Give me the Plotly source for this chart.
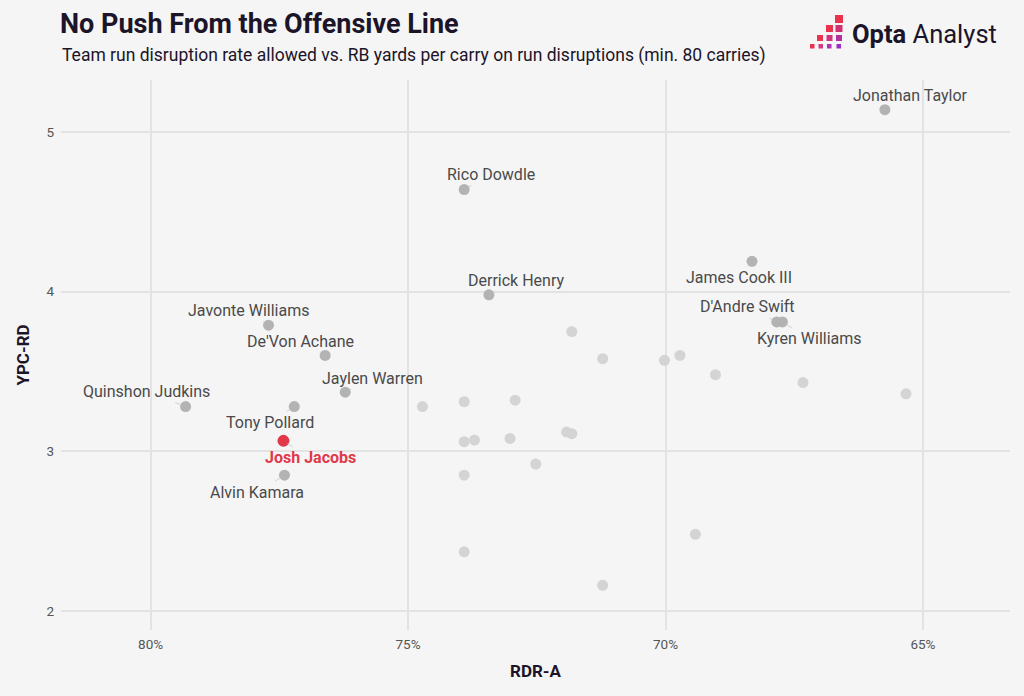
import plotly.graph_objects as go

# ---- data ----
labeled_names = ["Jonathan Taylor", "Rico Dowdle", "James Cook III", "Derrick Henry",
                 "D'Andre Swift", "Kyren Williams", "Javonte Williams", "De'Von Achane",
                 "Jaylen Warren", "Quinshon Judkins", "Tony Pollard", "Alvin Kamara"]
labeled_rdr = [65.74, 73.91, 68.32, 73.43, 67.84, 67.73, 77.71, 76.61, 76.22, 79.32, 77.21, 77.40]
labeled_ypc = [5.14, 4.64, 4.19, 3.98, 3.81, 3.81, 3.79, 3.60, 3.37, 3.28, 3.28, 2.85]
# label offsets in pixels (dx, dy)
label_dx = [26, 27, -13, 27, -29, 27, -20, -25, 27, -39, -24, -27]
label_dy = [-14, -15, 16, -14, -15, 17, -15, -14, -14, -15, 16, 17]

highlight_name = "Josh Jacobs"
highlight_rdr = [77.42]
highlight_ypc = [3.065]

other_rdr = [71.82, 71.22, 74.72, 73.91, 72.92, 73.91, 73.71, 73.02, 71.92, 71.82,
             72.52, 73.91, 73.91, 71.22, 70.02, 69.72, 69.03, 67.33, 65.33, 69.42]
other_ypc = [3.75, 3.58, 3.28, 3.31, 3.32, 3.06, 3.07, 3.08, 3.12, 3.11,
             2.92, 2.85, 2.37, 2.16, 3.57, 3.60, 3.48, 3.43, 3.36, 2.48]

x_ticks = [80, 75, 70, 65]
y_ticks = [2, 3, 4, 5]

# ---- layout geometry ----
W, H = 1024, 696
L, R, T, B = 61, 14, 80, 66
PW, PH = W - L - R, H - T - B


def px(xp):
    return (xp - L) / PW


def py(yp):
    return (H - B - yp) / PH


BG = "#f5f5f5"
DARK = "#1c1428"
FONT = "Roboto"

fig = go.Figure()

fig.add_trace(go.Scatter(
    x=other_rdr, y=other_ypc, mode="markers",
    marker=dict(size=11, color="#d4d4d4", line=dict(width=0)),
    hoverinfo="skip", showlegend=False))

fig.add_trace(go.Scatter(
    x=labeled_rdr, y=labeled_ypc, mode="markers", text=labeled_names,
    marker=dict(size=11, color="#b3b3b3", line=dict(width=0)),
    hoverinfo="text", showlegend=False))

fig.add_trace(go.Scatter(
    x=highlight_rdr, y=highlight_ypc, mode="markers", text=[highlight_name],
    marker=dict(size=12, color="#e03a4a", line=dict(width=0)),
    hoverinfo="text", showlegend=False))

annotations = []
for n, xv, yv, dx, dy in zip(labeled_names, labeled_rdr, labeled_ypc, label_dx, label_dy):
    annotations.append(dict(
        x=xv, y=yv, xref="x", yref="y", text=n, showarrow=True, arrowhead=0,
        arrowwidth=1, arrowcolor="#d2d2d2", ax=dx, ay=dy, standoff=5,
        font=dict(family=FONT, size=16, color="#4a4a4a")))
annotations.append(dict(
    x=highlight_rdr[0], y=highlight_ypc[0], xref="x", yref="y",
    text="<b>" + highlight_name + "</b>", showarrow=True, arrowhead=0,
    arrowwidth=1, arrowcolor="#d2d2d2", ax=27, ay=17, standoff=5,
    font=dict(family=FONT, size=16, color="#e03a4a")))

# subtitle
annotations.append(dict(
    x=px(60), y=py(56), xref="paper", yref="paper", xanchor="left", yanchor="middle",
    text="Team run disruption rate allowed vs. RB yards per carry on run disruptions (min. 80 carries)",
    showarrow=False, font=dict(family=FONT, size=17.5, color=DARK)))

# logo text
annotations.append(dict(
    x=px(850), y=py(34), xref="paper", yref="paper", xanchor="left", yanchor="middle",
    text="<b>Opta</b> Analyst", showarrow=False,
    font=dict(family=FONT, size=25.5, color=DARK)))

# logo squares (x0, y0, size, colour) in pixels
logo_sq = [
    (835, 15, 8, "#e8334d"),
    (826, 25, 7, "#e8334d"), (835.5, 25, 7, "#d0306f"),
    (817, 35, 6, "#e8334d"), (826.5, 35, 6, "#d0357c"), (836, 35, 6, "#b3309f"),
    (810, 44, 4.5, "#e8334d"), (818.5, 44, 4.5, "#d03a88"), (827, 44, 4.5, "#b030b8"),
    (836.5, 44, 4.5, "#9a2fc8"),
]
shapes = []
for x0, y0, s, c in logo_sq:
    shapes.append(dict(type="rect", xref="paper", yref="paper",
                       x0=px(x0), x1=px(x0 + s), y0=py(y0 + s), y1=py(y0),
                       line=dict(width=0), fillcolor=c, layer="above"))

fig.update_layout(
    width=W, height=H,
    margin=dict(l=L, r=R, t=T, b=B),
    paper_bgcolor=BG, plot_bgcolor=BG,
    title=dict(text="<b>No Push From the Offensive Line</b>", x=60 / W, xanchor="left",
               y=1 - 24 / H, yanchor="middle",
               font=dict(family=FONT, size=27, color=DARK)),
    xaxis=dict(range=[81.74, 63.31], tickvals=x_ticks, ticktext=[f"{v}%" for v in x_ticks],
               showgrid=True, gridcolor="#e3e3e3", gridwidth=1.5, zeroline=False,
               showline=False, ticks="", tickfont=dict(family=FONT, size=13.5, color="#555555"),
               ticklabelstandoff=4,
               title=dict(text="<b>RDR-A</b>", font=dict(family=FONT, size=17, color=DARK), standoff=14)),
    yaxis=dict(range=[1.88, 5.326], tickvals=y_ticks, showgrid=True, gridcolor="#e3e3e3",
               gridwidth=1.5, zeroline=False, showline=False, ticks="",
               tickfont=dict(family=FONT, size=13.5, color="#555555"), ticklabelstandoff=6,
               title=dict(text="<b>YPC-RD</b>", font=dict(family=FONT, size=17, color=DARK), standoff=12)),
    annotations=annotations,
    shapes=shapes,
    font=dict(family=FONT),
)

fig.write_html("out.html")
